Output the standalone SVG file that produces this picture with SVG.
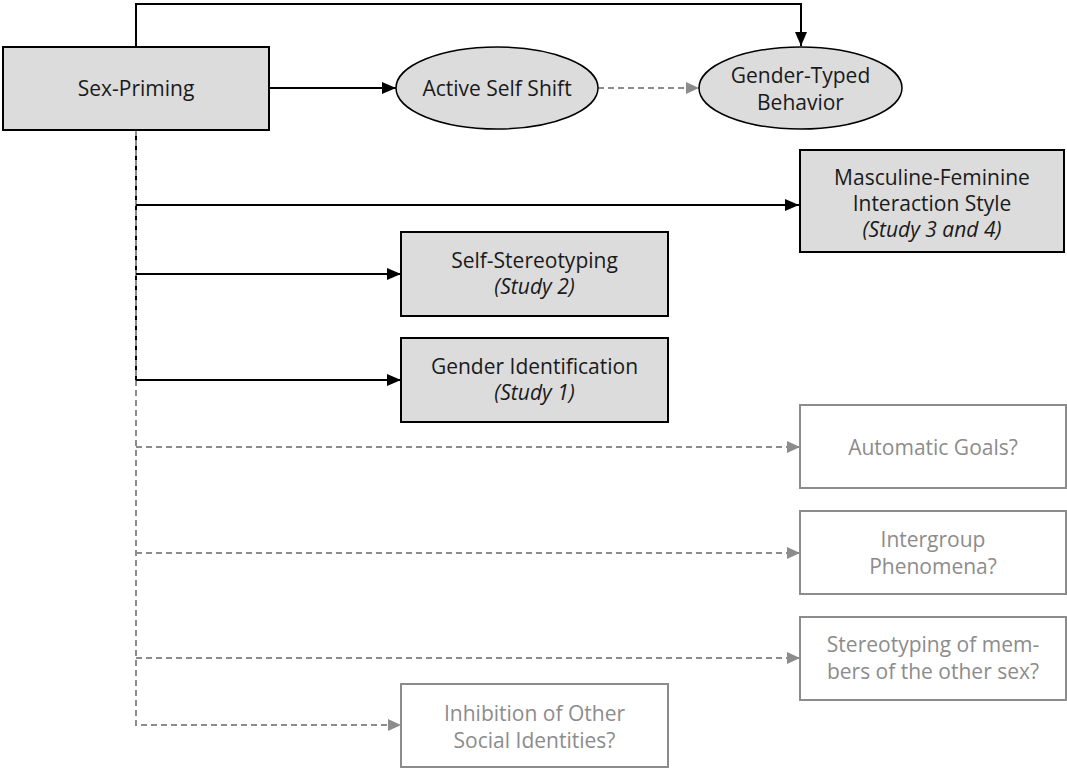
<svg xmlns="http://www.w3.org/2000/svg" width="1067" height="769" viewBox="0 0 1067 769">
<style>
.box{fill:#dcdcdc;stroke:#000;stroke-width:2}
.ell{fill:#dcdcdc;stroke:#000;stroke-width:1.5}
.gbox{fill:#fff;stroke:#8c8c8c;stroke-width:2}
.t{font-family:"Open Sans","Noto Sans",sans-serif;font-size:21px;fill:#1a1a1a;text-anchor:middle}
.g{fill:#8c8c8c}
.i{font-style:italic}
.s{fill:none;stroke:#000;stroke-width:2}
.d{fill:none;stroke:#8c8c8c;stroke-width:2;stroke-dasharray:6,4}
</style>
<defs>
<marker id="ab" markerWidth="14" markerHeight="12" refX="14" refY="6" orient="auto" markerUnits="userSpaceOnUse"><path d="M0,0L14,6L0,12Z" fill="#000"/></marker>
<marker id="ag" markerWidth="13" markerHeight="12" refX="13" refY="6" orient="auto" markerUnits="userSpaceOnUse"><path d="M0,0L13,6L0,12Z" fill="#8c8c8c"/></marker>
</defs>
<g id="connectors">
<path class="s" d="M136,47V4H801V46" marker-end="url(#ab)"/>
<path class="s" d="M269,88H396" marker-end="url(#ab)"/>
<path class="d" d="M598,88H699" marker-end="url(#ag)"/>
<path class="s" d="M136,130V380"/>
<path class="d" d="M136,130V725H401" marker-end="url(#ag)"/>
<path class="s" d="M136,205H799" marker-end="url(#ab)"/>
<path class="s" d="M136,274H401" marker-end="url(#ab)"/>
<path class="s" d="M136,380H401" marker-end="url(#ab)"/>
<path class="d" d="M136,447H800" marker-end="url(#ag)"/>
<path class="d" d="M136,553H800" marker-end="url(#ag)"/>
<path class="d" d="M136,658H800" marker-end="url(#ag)"/>
</g>
<g id="sex-priming"><rect class="box" x="3" y="47" width="266" height="83"/><text class="t" x="136" y="96">Sex-Priming</text></g>
<g id="active-self-shift"><ellipse class="ell" cx="497" cy="88" rx="101" ry="41"/><text class="t" x="497" y="96">Active Self Shift</text></g>
<g id="gender-typed"><ellipse class="ell" cx="800.5" cy="88" rx="101.5" ry="41"/><text class="t" x="800.5" y="83">Gender-Typed</text><text class="t" x="800.5" y="110">Behavior</text></g>
<g id="masculine-feminine"><rect class="box" x="800" y="150" width="264" height="102"/><text class="t" x="932" y="185">Masculine-Feminine</text><text class="t" x="932" y="211">Interaction Style</text><text class="t i" x="932" y="237">(Study 3 and 4)</text></g>
<g id="self-stereotyping"><rect class="box" x="401" y="232" width="267" height="84"/><text class="t" x="534.5" y="268">Self-Stereotyping</text><text class="t i" x="534.5" y="294">(Study 2)</text></g>
<g id="gender-identification"><rect class="box" x="401" y="338" width="267" height="84"/><text class="t" x="534.5" y="374">Gender Identification</text><text class="t i" x="534.5" y="400">(Study 1)</text></g>
<g id="automatic-goals"><rect class="gbox" x="800" y="405" width="266" height="83"/><text class="t g" x="933" y="455">Automatic Goals?</text></g>
<g id="intergroup"><rect class="gbox" x="800" y="511" width="266" height="83"/><text class="t g" x="933" y="547">Intergroup</text><text class="t g" x="933" y="574">Phenomena?</text></g>
<g id="stereotyping-other"><rect class="gbox" x="800" y="617" width="266" height="83"/><text class="t g" x="933" y="652">Stereotyping of mem-</text><text class="t g" x="933" y="679">bers of the other sex?</text></g>
<g id="inhibition"><rect class="gbox" x="401" y="684" width="267" height="83"/><text class="t g" x="534.5" y="721">Inhibition of Other</text><text class="t g" x="534.5" y="748">Social Identities?</text></g>
</svg>
